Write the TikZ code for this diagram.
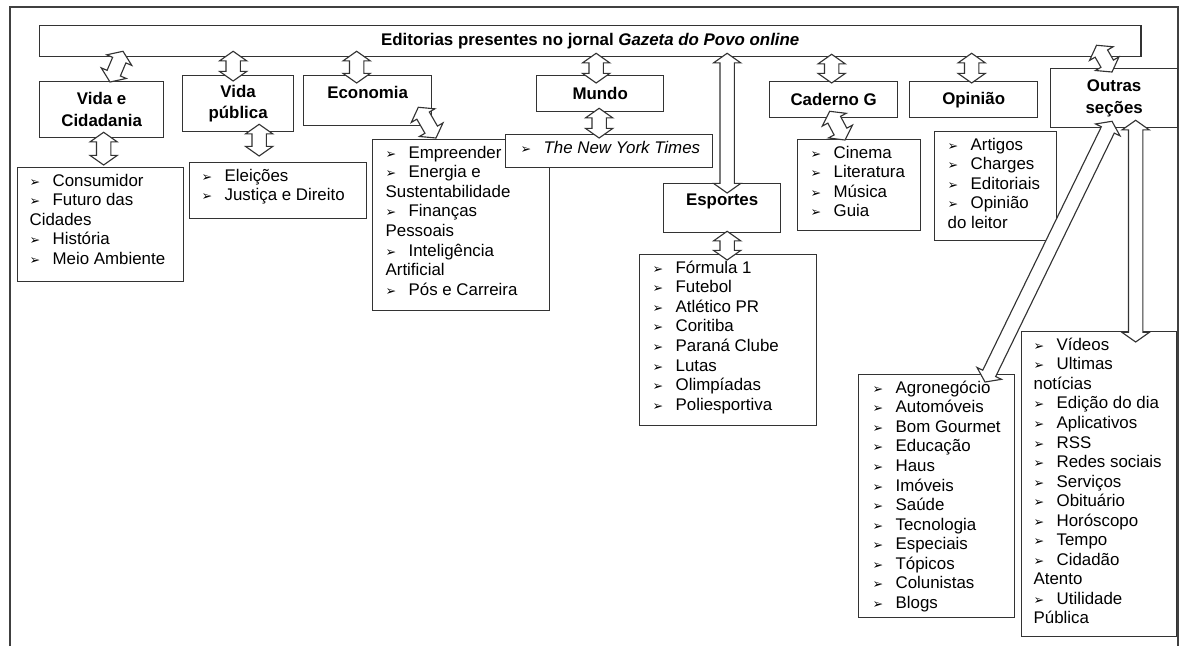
\documentclass[tikz,border=0pt]{standalone}
\usepackage{fontspec}
\setmainfont{Liberation Sans}
\newfontfamily\dejavu{DejaVu Sans}
\usetikzlibrary{calc,positioning}

\newlength\pxu
\setlength\pxu{0.25mm}
\newcommand{\hdfont}{\bfseries\fontsize{12}{15.5}\selectfont}
\newcommand{\lstfont}{\fontsize{12}{13.9}\selectfont}
\newcommand{\bul}{{\dejavu\fontsize{9}{9}\selectfont\char"27A2}}
\newcommand{\itm}[1]{\strut\makebox[23\pxu][l]{\bul}#1}
\newcommand{\lbx}[4][12]{\parbox[t][#3\pxu][t]{#2\pxu}{\vspace*{5\pxu}\raggedright\leftskip=#1\pxu\relax #4}}

\begin{document}
\begin{tikzpicture}[x=0.025cm,y=-0.025cm,
  sz/.style 2 args={minimum width=#1*0.25mm,minimum height=#2*0.25mm},
  hd/.style={draw=black!80,line width=0.9pt,fill=white,anchor=north west,inner sep=0pt,align=center,font=\hdfont},
  lst/.style={draw=black!80,line width=0.9pt,fill=white,anchor=north west,inner sep=0pt,font=\lstfont},
  dbl/.style={draw=black!80,line width=0.8pt,fill=white,line join=miter,
    to path={
      -- ($(\tikztostart)!2.4mm!(\tikztotarget)!3.4mm!90:(\tikztotarget)$)
      -- ($(\tikztostart)!2.4mm!(\tikztotarget)!1.8mm!90:(\tikztotarget)$)
      -- ($(\tikztotarget)!2.4mm!(\tikztostart)!1.8mm!-90:(\tikztostart)$)
      -- ($(\tikztotarget)!2.4mm!(\tikztostart)!3.4mm!-90:(\tikztostart)$)
      -- (\tikztotarget)
      -- ($(\tikztotarget)!2.4mm!(\tikztostart)!3.4mm!90:(\tikztostart)$)
      -- ($(\tikztotarget)!2.4mm!(\tikztostart)!1.8mm!90:(\tikztostart)$)
      -- ($(\tikztostart)!2.4mm!(\tikztotarget)!1.8mm!-90:(\tikztotarget)$)
      -- ($(\tikztostart)!2.4mm!(\tikztotarget)!3.4mm!-90:(\tikztotarget)$)
      -- cycle}}]

  \useasboundingbox (0,0) rectangle (1181,646);
  \draw[line width=1.1pt,black!75] (10,646) |- (1178,7) -- (1178,646);

  \node[hd,sz={1101}{31}]	(ttl)	at (39,25)	{Editorias presentes no jornal \textit{Gazeta do Povo online}};

  \node[hd,sz={124}{56}]	(vc)	at (39,81)	{Vida e\\Cidadania};
  \node[hd,sz={111}{56}]	(vp)	at (182,75)	{Vida\\pública};
  \node[hd,sz={128}{50},text depth=4mm]	(eco)	at (303,75)	{Economia};
  \node[hd,sz={127}{36}]	(mun)	at (536,75)	{Mundo};
  \node[hd,sz={117}{49},text depth=4mm]	(esp)	at (663,183)	{Esportes};
  \node[hd,sz={128}{36}]	(cad)	at (769,81)	{Caderno G};
  \node[hd,sz={128}{36}]	(opi)	at (909,81)	{Opinião};
  \node[hd,sz={127}{59}]	(out)	at (1050,68)	{Outras\\seções};

  \node[lst]	(vcl)	at (17,167)	{\lbx{166}{114}{\itm{Consumidor}\\ \itm{Futuro das}\\ \strut Cidades\\ \itm{História}\\ \itm{Meio Ambiente}}};
  \node[lst]	(vpl)	at (189,162)	{\lbx{177}{56}{\itm{Eleições}\\ \itm{Justiça e Direito}}};
  \node[lst]	(ecol)	at (372,139)	{\lbx[13]{177}{171}{\itm{Empreender}\\ \itm{Energia e}\\ \strut Sustentabilidade\\ \itm{Finanças}\\ \strut Pessoais\\ \itm{Inteligência}\\ \strut Artificial\\ \itm{Pós e Carreira}}};
  \node[lst]	(nyt)	at (505,134)	{\lbx[15]{207}{33}{\itm{\textit{The New York Times}}}};
  \node[lst]	(cadl)	at (797,139)	{\lbx[13]{123}{91}{\itm{Cinema}\\ \itm{Literatura}\\ \itm{Música}\\ \itm{Guia}}};
  \node[lst]	(opil)	at (934,131)	{\lbx[13]{122}{109}{\itm{Artigos}\\ \itm{Charges}\\ \itm{Editoriais}\\ \itm{Opinião}\\ \strut do leitor}};
  \node[lst]	(espl)	at (639,254)	{\lbx[13]{177}{171}{\itm{Fórmula 1}\\ \itm{Futebol}\\ \itm{Atlético PR}\\ \itm{Coritiba}\\ \itm{Paraná Clube}\\ \itm{Lutas}\\ \itm{Olimpíadas}\\ \itm{Poliesportiva}}};
  \node[lst]	(outl)	at (858,374)	{\lbx[14]{156}{243}{\itm{Agronegócio}\\ \itm{Automóveis}\\ \itm{Bom Gourmet}\\ \itm{Educação}\\ \itm{Haus}\\ \itm{Imóveis}\\ \itm{Saúde}\\ \itm{Tecnologia}\\ \itm{Especiais}\\ \itm{Tópicos}\\ \itm{Colunistas}\\ \itm{Blogs}}};
  \node[lst]	(outr)	at (1021,331)	{\lbx{155}{305}{\itm{Vídeos}\\ \itm{Ultimas}\\ \strut notícias\\ \itm{Edição do dia}\\ \itm{Aplicativos}\\ \itm{RSS}\\ \itm{Redes sociais}\\ \itm{Serviços}\\ \itm{Obituário}\\ \itm{Horóscopo}\\ \itm{Tempo}\\ \itm{Cidadão}\\ \strut Atento\\ \itm{Utilidade}\\ \strut Pública}};

\path
     ($(ttl.south west)+(84,-6)$)	edge[dbl]	($(vc.north west)+(71,1)$)
     ($(ttl.south -| vp.north)+(-5,-6)$)	edge[dbl]	($(vp.north)+(-5,6)$)
     ($(vp.south)+(21,-8)$)	edge[dbl]	($(vp.south |- vpl.north)+(21,-6)$)
     ($(vc.south)+(2,-6)$)	edge[dbl]	($(vc.south |- vcl.north)+(2,-2)$)
     ($(ttl.south -| eco.north)+(-11,-6)$)	edge[dbl]	($(eco.north)+(-11,8)$)
     ($(eco.south east)+(-14,-19)$)	edge[dbl]	($(ecol.north west)+(64,-1)$)
     ($(ttl.south -| mun.north)+(-4,-4)$)	edge[dbl]	($(mun.north)+(-4,8)$)
     ($(mun.south)+(-1,-4)$)	edge[dbl]	($(mun.south |- nyt.north)+(-1,4)$)
     ($(ttl.south -| esp.north)+(5,-4)$)	edge[dbl]	($(esp.north)+(5,10)$)
     ($(esp.south)+(5,-2)$)	edge[dbl]	($(esp.south |- espl.north)+(5,6)$)
     ($(ttl.south -| cad.north)+(-2,-3)$)	edge[dbl]	($(cad.north)+(-2,2)$)
     ($(cad.south)+(-4,-7)$)	edge[dbl]	($(cadl.north west)+(48,1)$)
     ($(ttl.south -| opi.north)+(-2,-4)$)	edge[dbl]	($(opi.north)+(-2,2)$)
     ($(ttl.south east)+(-45,-12)$)	edge[dbl]	($(out.north west)+(62,4)$)
     ($(out.south west)+(62,-7)$)	edge[dbl]	($(outl.north west)+(127,8)$)
     ($(out.south)+(21.5,-8)$)	edge[dbl]	($(out.south |- outr.north)+(21.5,11)$)
  ;
\end{tikzpicture}
\end{document}
